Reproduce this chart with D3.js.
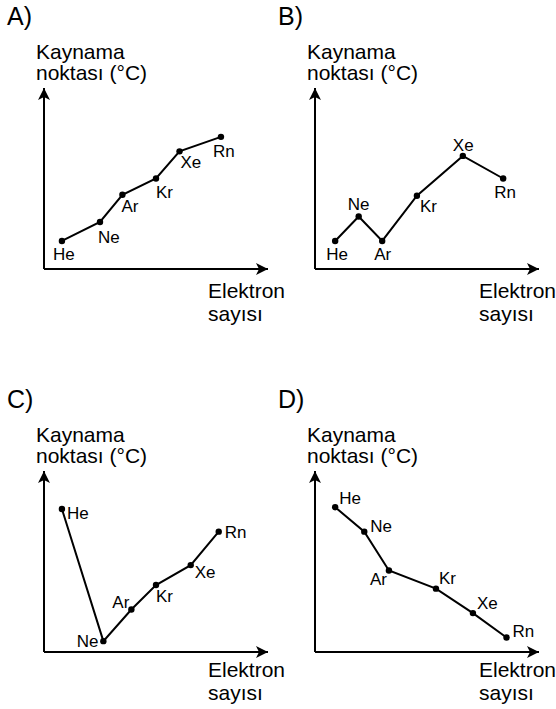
<!DOCTYPE html>
<html>
<head>
<meta charset="utf-8">
<script src="https://cdn.jsdelivr.net/npm/d3@7"></script>
<style>
  body { margin: 0; background: #fff; }
  text { font-family: "Liberation Sans", Arial, sans-serif; fill: #000; }
</style>
</head>
<body>
<svg width="556" height="709"></svg>
<script>
(function () {

	var elements = ['He', 'Ne', 'Ar', 'Kr', 'Xe', 'Rn'];
	var panelNames = ['A)', 'B)', 'C)', 'D)'];

	// x = electron count position, y = boiling point (both 0..100 along the axis)
	var xA = [8, 25, 35, 50, 60.5, 79];
	var yA = [15.5, 26, 41, 50, 65, 73];
	var xB = [9, 19.5, 30, 45.5, 66, 84];
	var yB = [15.5, 29, 15.5, 40.5, 62.5, 50];
	var xC = [8, 26.5, 39, 50, 65.5, 78];
	var yC = [79, 6, 23.5, 37, 48, 66.5];
	var xD = [9, 22, 33, 54, 70.5, 85.5];
	var yD = [80, 66.5, 45, 35, 21.5, 8];

	var yTitle = ['Kaynama', 'noktası (°C)'];
	var xTitle = ['Elektron', 'sayısı'];

	// label placement relative to each point: dx, dy, anchor
	var offA = [[-9, 19], [-2, 21], [-1, 17], [0, 19], [1, 17], [-8, 20]];
	var offB = [[-9, 19], [-11, -7], [-8, 19], [3, 16], [-10, -5], [-9, 19]];
	var offC = [[5, 10, 'start'], [-5, 6, 'end'], [-2, -1, 'end'], [0, 17], [4, 13], [6, 6]];
	var offD = [[4, -3], [6, 0], [-19, 14], [3, -5], [4, -4], [6, -1]];

	var panels = [
		{name: panelNames[0], x: xA, y: yA, off: offA, ox: 44, oy: 269, xt: 29},
		{name: panelNames[1], x: xB, y: yB, off: offB, ox: 315, oy: 269, xt: 29},
		{name: panelNames[2], x: xC, y: yC, off: offC, ox: 44, oy: 652, xt: 25},
		{name: panelNames[3], x: xD, y: yD, off: offD, ox: 315, oy: 652, xt: 25}
	];

	var axisW = 224, axisH = 181;

	var svg = d3.select('svg');
	var defs = svg.append('defs');
	defs.append('marker')
		.attr('id', 'arrow')
		.attr('viewBox', '0 0 12 12')
		.attr('refX', 12).attr('refY', 6)
		.attr('markerWidth', 12).attr('markerHeight', 12)
		.attr('markerUnits', 'userSpaceOnUse')
		.attr('orient', 'auto')
		.append('path')
		.attr('d', 'M0,0 L12,6 L0,12 L3,6 Z')
		.attr('fill', '#000');

	panels.forEach(function (p) {
		var g = svg.append('g').attr('transform', 'translate(' + p.ox + ',' + p.oy + ')');

		var xScale = d3.scaleLinear().domain([0, 100]).range([0, axisW]);
		var yScale = d3.scaleLinear().domain([0, 100]).range([0, -axisH]);

		// panel letter
		g.append('text')
			.attr('x', -37).attr('y', -244)
			.attr('font-size', 25)
			.text(p.name);

		// y axis title
		g.selectAll('.yt').data(yTitle).enter().append('text')
			.attr('x', -8)
			.attr('y', function (d, i) { return -210 + i * 21; })
			.attr('font-size', 21)
			.text(function (d) { return d; });

		// x axis title
		g.selectAll('.xt').data(xTitle).enter().append('text')
			.attr('x', 164)
			.attr('y', function (d, i) { return p.xt + i * 23; })
			.attr('font-size', 21)
			.text(function (d) { return d; });

		// axes
		g.append('line')
			.attr('x1', xScale(0)).attr('y1', 0)
			.attr('x2', xScale(100)).attr('y2', 0)
			.attr('stroke', '#000').attr('stroke-width', 2)
			.attr('marker-end', 'url(#arrow)');
		g.append('line')
			.attr('x1', 0).attr('y1', yScale(0))
			.attr('x2', 0).attr('y2', yScale(100))
			.attr('stroke', '#000').attr('stroke-width', 2)
			.attr('marker-end', 'url(#arrow)');

		var pts = elements.map(function (e, i) {
			return {name: e, x: p.x[i], y: p.y[i], off: p.off[i]};
		});

		var line = d3.line()
			.x(function (d) { return xScale(d.x); })
			.y(function (d) { return yScale(d.y); });

		g.append('path')
			.datum(pts)
			.attr('d', line)
			.attr('fill', 'none')
			.attr('stroke', '#000')
			.attr('stroke-width', 2);

		g.selectAll('circle')
			.data(pts)
			.enter().append('circle')
			.attr('cx', function (d) { return xScale(d.x); })
			.attr('cy', function (d) { return yScale(d.y); })
			.attr('r', 3.2)
			.attr('fill', '#000');

		g.selectAll('.lbl')
			.data(pts)
			.enter().append('text')
			.attr('class', 'lbl')
			.attr('x', function (d) { return xScale(d.x) + d.off[0]; })
			.attr('y', function (d) { return yScale(d.y) + d.off[1]; })
			.attr('text-anchor', function (d) { return d.off[2] || 'start'; })
			.attr('font-size', 17)
			.text(function (d) { return d.name; });
	});

})();
</script>
</body>
</html>
